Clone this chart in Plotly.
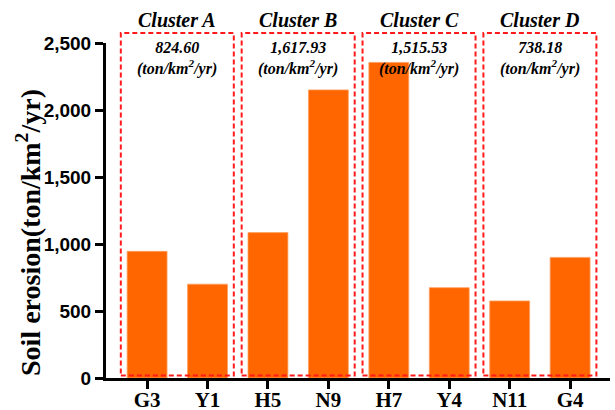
import plotly.graph_objects as go

sites = ["G3", "Y1", "H5", "N9", "H7", "Y4", "N11", "G4"]
erosion = [945, 700, 1085, 2150, 2355, 674, 575, 900]
clusters = ["Cluster A", "Cluster B", "Cluster C", "Cluster D"]
cluster_means = ["824.60", "1,617.93", "1,515.53", "738.18"]
y_ticks = [0, 500, 1000, 1500, 2000, 2500]
y_ticklabels = ["0", "500", "1,000", "1,500", "2,000", "2,500"]

serif = "Liberation Serif, Times New Roman, serif"
sans = "Liberation Sans, Arial, sans-serif"

L, R, T, B = 106, 5, 43, 32
W, H = 615, 410
ph = H - T - B
pw = W - L - R

fig = go.Figure()
fig.add_trace(go.Bar(
    x=sites, y=erosion,
    marker=dict(color="#FF6600", line=dict(color="#FFA060", width=0.8)),
    width=0.66,
))

shapes = []
annotations = []
for i, (name, mean) in enumerate(zip(clusters, cluster_means)):
    c = 2 * i + 0.5
    shapes.append(dict(
        type="rect", xref="x", yref="paper",
        x0=c - 0.935, x1=c + 0.935, y0=2.5 / ph, y1=1 + 10 / ph,
        line=dict(color="#FF1A1A", width=2, dash="5px,3px"),
        fillcolor="rgba(0,0,0,0)", layer="above",
    ))
    annotations.append(dict(
        x=c, y=1 + (T - 20.5) / ph, xref="x", yref="paper", yanchor="middle",
        text=f"<b><i>{name}</i></b>", showarrow=False,
        font=dict(family=serif, size=20, color="black"),
    ))
    annotations.append(dict(
        x=c, y=1 - (58 - T) / ph, xref="x", yref="paper", yanchor="middle",
        text=f"<b><i>{mean}</i></b><br><b><i>(ton/km<sup>2</sup>/yr)</i></b>", showarrow=False,
        font=dict(family=serif, size=16, color="black"),
    ))

annotations.append(dict(
    x=(28 - L) / pw, y=(H - B - 233) / ph, xref="paper", yref="paper",
    xanchor="center", yanchor="middle", textangle=-90, showarrow=False,
    text="Soil erosion(ton/km<sup>2</sup>/yr)",
    font=dict(family=serif, size=28, color="black", weight="bold"),
))

fig.update_layout(
    width=W, height=H,
    margin=dict(l=L, r=R, t=T, b=B),
    plot_bgcolor="white", paper_bgcolor="white",
    showlegend=False,
    shapes=shapes, annotations=annotations,
    xaxis=dict(
        range=[-0.68, 7.66], showline=True, linecolor="black", linewidth=3,
        ticks="outside", ticklen=8, tickwidth=2.5, tickcolor="black",
        tickfont=dict(family=serif, size=21, color="black", weight="bold"),
        showgrid=False, zeroline=False, automargin=False,
        ticklabelstandoff=-7,
    ),
    yaxis=dict(
        range=[0, 2500], showline=True, linecolor="black", linewidth=3,
        ticks="outside", ticklen=8, tickwidth=2.5, tickcolor="black",
        tickvals=y_ticks, ticktext=y_ticklabels,
        tickfont=dict(family=sans, size=19, color="black", weight="bold"),
        showgrid=False, zeroline=False, automargin=False,
    ),
)

fig.write_html("out.html", config={"displayModeBar": False},
               post_script="document.body.style.margin='0';document.body.style.overflow='hidden';")
